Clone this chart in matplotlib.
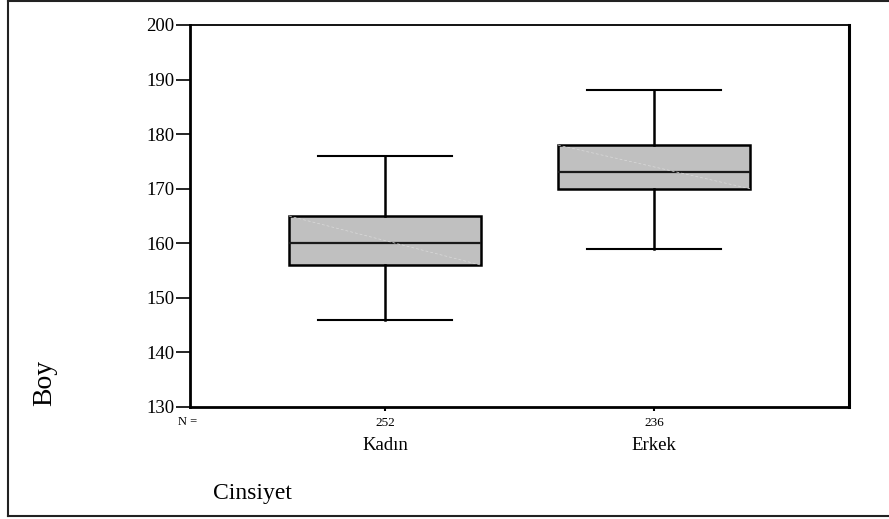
import matplotlib
matplotlib.use("Agg")
import matplotlib.pyplot as plt
from matplotlib.lines import Line2D

# Data
categories = ["Kadın", "Erkek"]
counts = [252, 236]
whisker_low = [146, 159]
q1 = [156, 170]
median = [160, 173]
q3 = [165, 178]
whisker_high = [176, 188]
y_ticks = [130, 140, 150, 160, 170, 180, 190, 200]

plt.rcParams['font.family'] = ['Liberation Serif', 'DejaVu Serif']

fig = plt.figure(figsize=(8.89, 5.19), dpi=100)
ax = fig.add_axes([190/889, 1-407/519, (849-190)/889, (407-25)/519])

positions = [1, 2]
box_w = 0.714
stats = []
for i, c in enumerate(categories):
    stats.append(dict(label=c, whislo=whisker_low[i], q1=q1[i], med=median[i],
                      q3=q3[i], whishi=whisker_high[i], fliers=[]))

ax.bxp(stats, positions=positions, widths=box_w, patch_artist=True,
       showfliers=False, capwidths=0.5,
       boxprops=dict(facecolor='#c0c0c0', edgecolor='black', linewidth=1.8),
       medianprops=dict(color='#1a1a1a', linewidth=1.6),
       whiskerprops=dict(color='black', linewidth=1.8),
       capprops=dict(color='black', linewidth=1.5))

# faint diagonal artefact inside boxes
for i, p in enumerate(positions):
    ax.plot([p - box_w/2, p + box_w/2], [q3[i], q1[i]], color='#dadada',
            lw=0.5, ls=(0, (4, 3)), zorder=3)

ax.set_xlim(0.275, 2.725)
ax.set_ylim(130, 200)
ax.set_yticks(y_ticks)
ax.set_yticklabels([str(v) for v in y_ticks], fontsize=13.5)
ax.tick_params(axis='y', direction='out', length=10, width=1.2, pad=1)
ax.set_xticks(positions)
ax.set_xticklabels([str(n) for n in counts], fontsize=9.5)
ax.tick_params(axis='x', direction='out', length=3, width=1.5, pad=4)
for s in ax.spines.values():
    s.set_linewidth(1.3)
ax.spines['left'].set_linewidth(2)
ax.spines['bottom'].set_linewidth(2)
ax.spines['right'].set_linewidth(2.2)

# category names below counts
for p, c in zip(positions, categories):
    ax.text(p, -0.10, c, transform=ax.get_xaxis_transform(), ha='center',
            va='center', fontsize=13.5)
ax.text(188/889, 1-422/519, "N =", transform=fig.transFigure, ha='center',
        va='center', fontsize=9)

fig.text(252/889, 1-493/519, "Cinsiyet", ha='center', va='center', fontsize=17)
fig.text(45/889, 1-383/519, "Boy", ha='center', va='center', rotation=90,
         fontsize=20)

# outer frame
fig.add_artist(Line2D([7.5/889, 1], [1-0.8/519, 1-0.8/519], transform=fig.transFigure,
                      color='#222222', lw=1.5))
fig.add_artist(Line2D([7.5/889, 7.5/889], [1-0.8/519, 1-515.5/519], transform=fig.transFigure,
                      color='#222222', lw=1.5))
fig.add_artist(Line2D([7.5/889, 1], [1-515.5/519, 1-515.5/519], transform=fig.transFigure,
                      color='#222222', lw=1.5))

fig.savefig("out.png", dpi=100)
